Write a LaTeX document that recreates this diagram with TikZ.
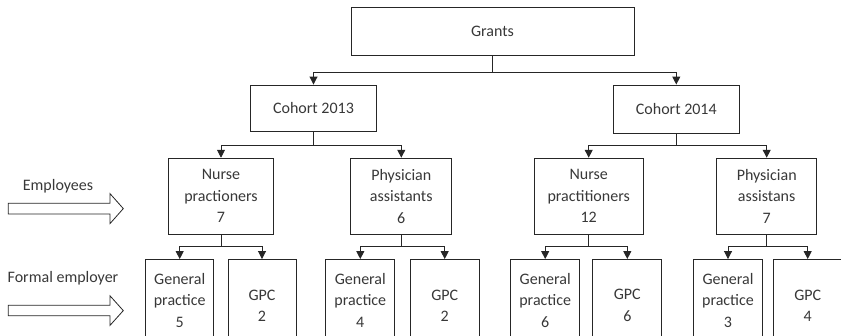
\documentclass[tikz,border=0pt]{standalone}
\usepackage{fontspec}
\setmainfont{Carlito}
\usetikzlibrary{arrows.meta}
\definecolor{ink}{gray}{0.15}
\definecolor{txt}{gray}{0.22}
\begin{document}
\begin{tikzpicture}[x=1pt,y=-1pt,
  every node/.style={font=\fontsize{16pt}{21.5pt}\selectfont, text=txt},
  box/.style={draw=ink, line width=0.9pt, inner sep=0pt, align=center},
  conn/.style={draw=ink, line width=0.9pt, -{Triangle[length=8pt,width=8pt]}},
  blockarrow/.style={draw=ink, line width=0.8pt, fill=white, line join=miter}
]
\clip (0,0) rectangle (841,335);

% top level
\node[box, minimum width=283pt, minimum height=48pt] (grants) at (492.5,31) {Grants};

% cohorts
\node[box, minimum width=126pt, minimum height=46pt] (c13) at (313.5,108) {Cohort 2013};
\node[box, minimum width=126pt, minimum height=48pt] (c14) at (676.3,109) {Cohort 2014};

% professions
\node[box, minimum width=105pt, minimum height=76pt] (n13) at (221,196.2) {Nurse\\practioners\\7};
\node[box, minimum width=101pt, minimum height=76pt] (p13) at (401.3,196.2) {Physician\\assistants\\6};
\node[box, minimum width=109pt, minimum height=76pt] (n14) at (588.7,196.2) {Nurse\\practitioners\\12};
\node[box, minimum width=100pt, minimum height=76pt] (p14) at (766.7,196.2) {Physician\\assistans\\7};

% employers
\node[box, minimum width=68pt, minimum height=81pt] (gp1) at (179.7,300) {General\\practice\\5};
\node[box, minimum width=68pt, minimum height=81pt] (gc1) at (262,300) {\mbox{}\\GPC\\2};
\node[box, minimum width=69pt, minimum height=81pt] (gp2) at (360.3,300) {General\\practice\\4};
\node[box, minimum width=69pt, minimum height=81pt] (gc2) at (444.7,300) {\mbox{}\\GPC\\2};
\node[box, minimum width=69pt, minimum height=81pt] (gp3) at (545.2,300) {General\\practice\\6};
\node[box, minimum width=69pt, minimum height=81pt] (gc3) at (627.3,300) {\mbox{}\\GPC\\6};
\node[box, minimum width=69pt, minimum height=81pt] (gp4) at (728,300) {General\\practice\\3};
\node[box, minimum width=69pt, minimum height=81pt] (gc4) at (807.7,300) {\mbox{}\\GPC\\4};

% connectors: stem, bus, drop onto the child
\foreach \p/\c in {grants/c13, grants/c14,
                   c13/n13, c13/p13, c14/n14, c14/p14,
                   n13/gp1, n13/gc1, p13/gp2, p13/gc2,
                   n14/gp3, n14/gc3, p14/gp4, p14/gc4}
  \draw[conn] (\p.south) |- ([yshift=12.5pt]\c.north) -- (\c.north);

% row labels with hollow block arrows
\node (emp) at (58,186.7) {Employees};
\node (form) at (63,278.3) {Formal employer};
\draw[blockarrow] (8.3,203.3) -- (110,203.3) -- (110,193.6) -- (123.3,208.6)
  -- (110,223.6) -- (110,214) -- (8.3,214) -- cycle;
\draw[blockarrow] (8.3,305.3) -- (110,305.3) -- (110,295.8) -- (123.3,310.6)
  -- (110,325.4) -- (110,315.8) -- (8.3,315.8) -- cycle;
\end{tikzpicture}
\end{document}
